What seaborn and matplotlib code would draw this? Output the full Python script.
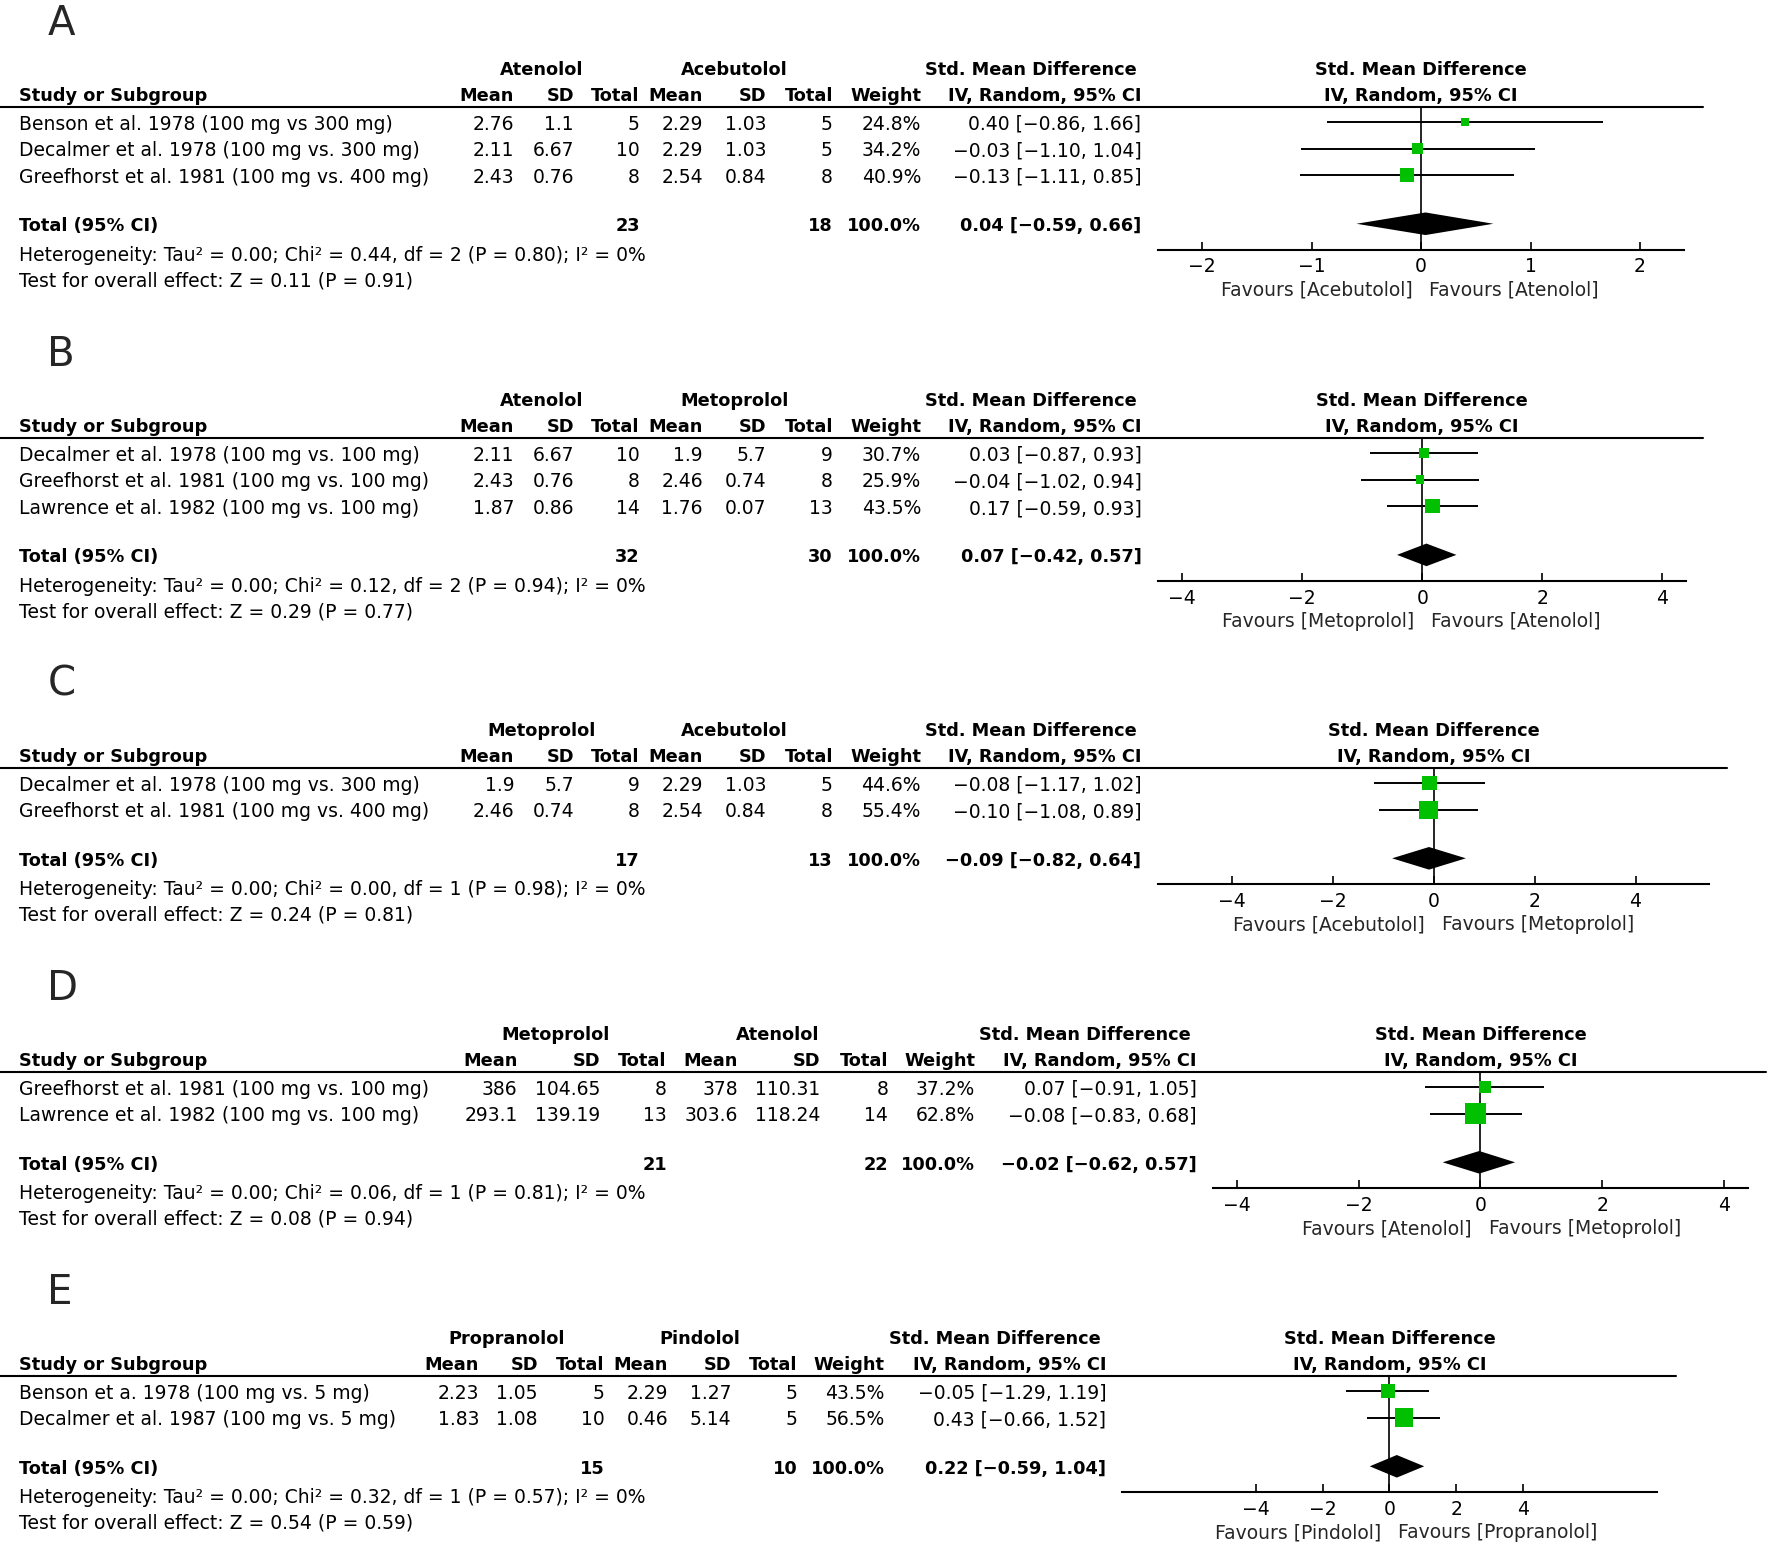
import numpy as np
import matplotlib.pyplot as plt
import seaborn as sns
from matplotlib.lines import Line2D

sns.set_theme(style="white")
plt.rcParams["font.family"] = ["DejaVu Sans"]

# ---------------- data ----------------
# A: Atenolol vs Acebutolol
a_groups = ["Atenolol", "Acebutolol"]
a_studies = ["Benson et al. 1978 (100 mg vs 300 mg)",
             "Decalmer et al. 1978 (100 mg vs. 300 mg)",
             "Greefhorst et al. 1981 (100 mg vs. 400 mg)"]
a_mean1 = [2.76, 2.11, 2.43]
a_sd1 = [1.1, 6.67, 0.76]
a_n1 = [5, 10, 8]
a_mean2 = [2.29, 2.29, 2.54]
a_sd2 = [1.03, 1.03, 0.84]
a_n2 = [5, 5, 8]
a_weight = [24.8, 34.2, 40.9]
a_smd = [0.40, -0.03, -0.13]
a_lo = [-0.86, -1.10, -1.11]
a_hi = [1.66, 1.04, 0.85]
a_total = [23, 18, 0.04, -0.59, 0.66]      # n1, n2, smd, lo, hi
a_het = [0.00, 0.44, 2, 0.80, 0]           # tau2, chi2, df, p, I2
a_effect = [0.11, 0.91]                    # Z, P
a_ticks = [-2, -1, 0, 1, 2]
a_favours = ["Favours [Acebutolol]", "Favours [Atenolol]"]

# B: Atenolol vs Metoprolol
b_groups = ["Atenolol", "Metoprolol"]
b_studies = ["Decalmer et al. 1978 (100 mg vs. 100 mg)",
             "Greefhorst et al. 1981 (100 mg vs. 100 mg)",
             "Lawrence et al. 1982 (100 mg vs. 100 mg)"]
b_mean1 = [2.11, 2.43, 1.87]
b_sd1 = [6.67, 0.76, 0.86]
b_n1 = [10, 8, 14]
b_mean2 = [1.9, 2.46, 1.76]
b_sd2 = [5.7, 0.74, 0.07]
b_n2 = [9, 8, 13]
b_weight = [30.7, 25.9, 43.5]
b_smd = [0.03, -0.04, 0.17]
b_lo = [-0.87, -1.02, -0.59]
b_hi = [0.93, 0.94, 0.93]
b_total = [32, 30, 0.07, -0.42, 0.57]
b_het = [0.00, 0.12, 2, 0.94, 0]
b_effect = [0.29, 0.77]
b_ticks = [-4, -2, 0, 2, 4]
b_favours = ["Favours [Metoprolol]", "Favours [Atenolol]"]

# C: Metoprolol vs Acebutolol
c_groups = ["Metoprolol", "Acebutolol"]
c_studies = ["Decalmer et al. 1978 (100 mg vs. 300 mg)",
             "Greefhorst et al. 1981 (100 mg vs. 400 mg)"]
c_mean1 = [1.9, 2.46]
c_sd1 = [5.7, 0.74]
c_n1 = [9, 8]
c_mean2 = [2.29, 2.54]
c_sd2 = [1.03, 0.84]
c_n2 = [5, 8]
c_weight = [44.6, 55.4]
c_smd = [-0.08, -0.10]
c_lo = [-1.17, -1.08]
c_hi = [1.02, 0.89]
c_total = [17, 13, -0.09, -0.82, 0.64]
c_het = [0.00, 0.00, 1, 0.98, 0]
c_effect = [0.24, 0.81]
c_ticks = [-4, -2, 0, 2, 4]
c_favours = ["Favours [Acebutolol]", "Favours [Metoprolol]"]

# D: Metoprolol vs Atenolol
d_groups = ["Metoprolol", "Atenolol"]
d_studies = ["Greefhorst et al. 1981 (100 mg vs. 100 mg)",
             "Lawrence et al. 1982 (100 mg vs. 100 mg)"]
d_mean1 = [386, 293.1]
d_sd1 = [104.65, 139.19]
d_n1 = [8, 13]
d_mean2 = [378, 303.6]
d_sd2 = [110.31, 118.24]
d_n2 = [8, 14]
d_weight = [37.2, 62.8]
d_smd = [0.07, -0.08]
d_lo = [-0.91, -0.83]
d_hi = [1.05, 0.68]
d_total = [21, 22, -0.02, -0.62, 0.57]
d_het = [0.00, 0.06, 1, 0.81, 0]
d_effect = [0.08, 0.94]
d_ticks = [-4, -2, 0, 2, 4]
d_favours = ["Favours [Atenolol]", "Favours [Metoprolol]"]

# E: Propranolol vs Pindolol
e_groups = ["Propranolol", "Pindolol"]
e_studies = ["Benson et a. 1978 (100 mg vs. 5 mg)",
             "Decalmer et al. 1987 (100 mg vs. 5 mg)"]
e_mean1 = [2.23, 1.83]
e_sd1 = [1.05, 1.08]
e_n1 = [5, 10]
e_mean2 = [2.29, 0.46]
e_sd2 = [1.27, 5.14]
e_n2 = [5, 5]
e_weight = [43.5, 56.5]
e_smd = [-0.05, 0.43]
e_lo = [-1.29, -0.66]
e_hi = [1.19, 1.52]
e_total = [15, 10, 0.22, -0.59, 1.04]
e_het = [0.00, 0.32, 1, 0.57, 0]
e_effect = [0.54, 0.59]
e_ticks = [-4, -2, 0, 2, 4]
e_favours = ["Favours [Pindolol]", "Favours [Propranolol]"]

panels = {
    "A": dict(groups=a_groups, studies=a_studies, m1=a_mean1, s1=a_sd1, n1=a_n1,
              m2=a_mean2, s2=a_sd2, n2=a_n2, w=a_weight, smd=a_smd, lo=a_lo, hi=a_hi,
              total=a_total, het=a_het, eff=a_effect, ticks=a_ticks, fav=a_favours),
    "B": dict(groups=b_groups, studies=b_studies, m1=b_mean1, s1=b_sd1, n1=b_n1,
              m2=b_mean2, s2=b_sd2, n2=b_n2, w=b_weight, smd=b_smd, lo=b_lo, hi=b_hi,
              total=b_total, het=b_het, eff=b_effect, ticks=b_ticks, fav=b_favours),
    "C": dict(groups=c_groups, studies=c_studies, m1=c_mean1, s1=c_sd1, n1=c_n1,
              m2=c_mean2, s2=c_sd2, n2=c_n2, w=c_weight, smd=c_smd, lo=c_lo, hi=c_hi,
              total=c_total, het=c_het, eff=c_effect, ticks=c_ticks, fav=c_favours),
    "D": dict(groups=d_groups, studies=d_studies, m1=d_mean1, s1=d_sd1, n1=d_n1,
              m2=d_mean2, s2=d_sd2, n2=d_n2, w=d_weight, smd=d_smd, lo=d_lo, hi=d_hi,
              total=d_total, het=d_het, eff=d_effect, ticks=d_ticks, fav=d_favours),
    "E": dict(groups=e_groups, studies=e_studies, m1=e_mean1, s1=e_sd1, n1=e_n1,
              m2=e_mean2, s2=e_sd2, n2=e_n2, w=e_weight, smd=e_smd, lo=e_lo, hi=e_hi,
              total=e_total, het=e_het, eff=e_effect, ticks=e_ticks, fav=e_favours),
}

# ---------------- layout (measured on a 1568 px wide copy) ----------------
cols_abc = dict(g1=479, g2=650, m1=455, s1=508, n1=566, m2=622, s2=678, n2=737,
                w=815, ci=1010, smd=912)
layout = {
    "A": dict(top=18, cols=cols_abc, line_end=1507, fx0=1025, fx1=1490, lim=2.4),
    "B": dict(top=311, cols=cols_abc, line_end=1507, fx0=1025, fx1=1492, lim=4.4),
    "C": dict(top=603, cols=cols_abc, line_end=1528, fx0=1025, fx1=1512, lim=5.45),
    "D": dict(top=872, cols=dict(g1=492, g2=688, m1=458, s1=531, n1=590, m2=653, s2=726,
                                 n2=786, w=863, ci=1059, smd=960),
              line_end=1563, fx0=1073, fx1=1547, lim=4.4),
    "E": dict(top=1141, cols=dict(g1=448, g2=619, m1=424, s1=476, n1=535, m2=591, s2=647,
                                  n2=706, w=783, ci=979, smd=880),
              line_end=1483, fx0=993, fx1=1466, lim=8.0),
}

S = 1772 / 1568
W, H = 1772, 1548
FS = 13.5       # regular text
FSB = 12.8      # bold text
ROW = 23.5
GREEN = "#00c000"


def fx(x):
    return x * S / W


def fy(y):
    return 1 - y * S / H


def num(v):
    return f"{v:g}"


def ci_text(est, lo, hi):
    return f"{est:.2f} [{lo:.2f}, {hi:.2f}]".replace("-", "\u2212")


def put(x, y, s, ha="right", bold=False):
    fig.text(fx(x), fy(y + 2), s, ha=ha, va="center",
             fontsize=FSB if bold else FS,
             fontweight="bold" if bold else "normal", color="black")


fig = plt.figure(figsize=(17.72, 15.48), dpi=100)

for letter, d in panels.items():
    lay = layout[letter]
    c = lay["cols"]
    top = lay["top"]
    n = len(d["studies"])
    row0 = top + 90
    y_total = n - 1 + 43 / ROW
    y_axis = y_total + 23 / ROW
    y_line = -13 / ROW

    fig.text(fx(42), fy(top + 3), letter, fontsize=29, ha="left", va="center")

    # headers
    h1, h2, hl = top + 42, top + 65, top + 77
    put(c["g1"], h1, d["groups"][0], ha="center", bold=True)
    put(c["g2"], h1, d["groups"][1], ha="center", bold=True)
    put(c["smd"], h1, "Std. Mean Difference", ha="center", bold=True)
    put(17, h2, "Study or Subgroup", ha="left", bold=True)
    for key, lab in [("m1", "Mean"), ("s1", "SD"), ("n1", "Total"),
                     ("m2", "Mean"), ("s2", "SD"), ("n2", "Total"),
                     ("w", "Weight"), ("ci", "IV, Random, 95% CI")]:
        put(c[key], h2, lab, bold=True)
    mid = (lay["fx0"] + lay["fx1"]) / 2
    put(mid, h1, "Std. Mean Difference", ha="center", bold=True)
    put(mid, h2, "IV, Random, 95% CI", ha="center", bold=True)
    fig.add_artist(Line2D([0, fx(lay["line_end"])], [fy(hl), fy(hl)],
                          transform=fig.transFigure, color="black", lw=1.5))

    # study rows
    for i in range(n):
        y = row0 + i * ROW
        put(17, y, d["studies"][i], ha="left")
        put(c["m1"], y, num(d["m1"][i]))
        put(c["s1"], y, num(d["s1"][i]))
        put(c["n1"], y, str(d["n1"][i]))
        put(c["m2"], y, num(d["m2"][i]))
        put(c["s2"], y, num(d["s2"][i]))
        put(c["n2"], y, str(d["n2"][i]))
        put(c["w"], y, f"{d['w'][i]:.1f}%")
        put(c["ci"], y, ci_text(d["smd"][i], d["lo"][i], d["hi"][i]))

    # total + footnotes
    tn1, tn2, test, tlo, thi = d["total"]
    yt = row0 + y_total * ROW
    put(17, yt, "Total (95% CI)", ha="left", bold=True)
    put(c["n1"], yt, str(tn1), bold=True)
    put(c["n2"], yt, str(tn2), bold=True)
    put(c["w"], yt, "100.0%", bold=True)
    put(c["ci"], yt, ci_text(test, tlo, thi), bold=True)
    tau2, chi2, df, p, i2 = d["het"]
    put(17, yt + 26, f"Heterogeneity: Tau\u00b2 = {tau2:.2f}; Chi\u00b2 = {chi2:.2f}, "
                     f"df = {df} (P = {p:.2f}); I\u00b2 = {i2}%", ha="left")
    put(17, yt + 48.5, f"Test for overall effect: Z = {d['eff'][0]:.2f} (P = {d['eff'][1]:.2f})",
        ha="left")

    # forest plot
    bottom_px = row0 + y_axis * ROW
    top_px = row0 + y_line * ROW
    ax = fig.add_axes([fx(lay["fx0"]), fy(bottom_px),
                       fx(lay["fx1"]) - fx(lay["fx0"]), fy(top_px) - fy(bottom_px)])
    ax.set_facecolor("none")
    rows = np.arange(n)
    ax.axvline(0, color="black", lw=1.2, zorder=1)
    ax.hlines(rows, d["lo"], d["hi"], color="black", lw=1.4, zorder=2)
    side_pt = np.array(d["w"]) * 0.29 * S * 0.72
    ax.scatter(d["smd"], rows, s=side_pt ** 2, marker="s", color=GREEN,
               linewidths=0, zorder=3)
    dh = 10 / ROW
    ax.fill([tlo, test, thi, test], [y_total, y_total - dh, y_total, y_total + dh],
            color="black", lw=0, zorder=3)
    ax.set_xlim(-lay["lim"], lay["lim"])
    ax.set_ylim(y_axis, y_line)
    ax.set_xticks(d["ticks"])
    ax.set_yticks([])
    sns.despine(ax=ax, left=True, top=True, right=True)
    ax.spines["bottom"].set_color("black")
    ax.spines["bottom"].set_linewidth(1.5)
    ax.tick_params(axis="x", bottom=True, direction="in", length=6, width=1.2,
                   labelsize=FS, pad=5.5, colors="black")
    ax.annotate(d["fav"][0], xy=(0, 0), xycoords=("data", "axes fraction"),
                xytext=(-6, -29), textcoords="offset points",
                ha="right", va="center", fontsize=FS)
    ax.annotate(d["fav"][1], xy=(0, 0), xycoords=("data", "axes fraction"),
                xytext=(6, -29), textcoords="offset points",
                ha="left", va="center", fontsize=FS)

fig.savefig("out.png", dpi=100, facecolor="white")
